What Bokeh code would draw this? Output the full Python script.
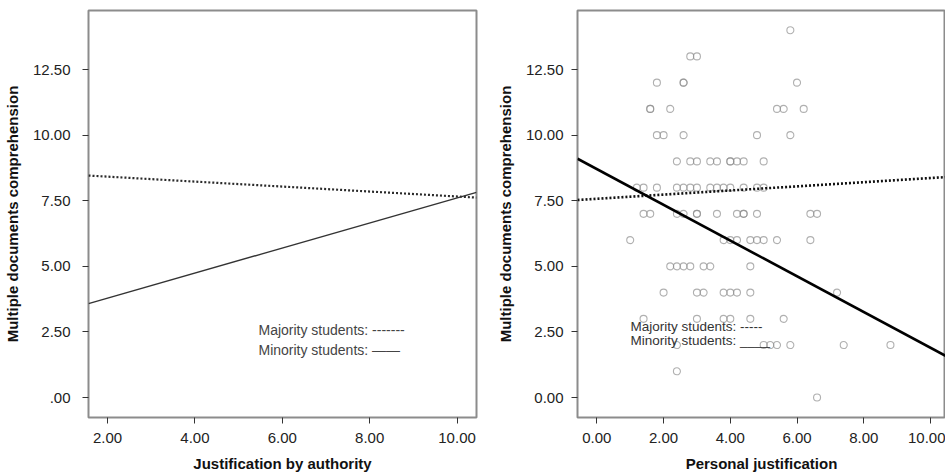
from bokeh.plotting import figure
from bokeh.layouts import row
from bokeh.models import FixedTicker, Range1d, Label
from bokeh.embed import file_html
from bokeh.resources import INLINE

# ---- data ----
y_ticks = [0.0, 2.5, 5.0, 7.5, 10.0, 12.5]
y_labels_left = [".00", "2.50", "5.00", "7.50", "10.00", "12.50"]
y_labels_right = ["0.00", "2.50", "5.00", "7.50", "10.00", "12.50"]
x_ticks_left = [2, 4, 6, 8, 10]
x_labels_left = ["2.00", "4.00", "6.00", "8.00", "10.00"]
x_ticks_right = [0, 2, 4, 6, 8, 10]
x_labels_right = ["0.00", "2.00", "4.00", "6.00", "8.00", "10.00"]

# left panel regression lines (justification by authority)
left_x = [1.565, 10.445]
majority_left = [8.46, 7.62]
minority_left = [3.58, 7.82]

# right panel regression lines (personal justification)
right_x = [-0.58, 10.45]
majority_right = [7.53, 8.40]
minority_right = [9.10, 1.59]

# right panel observed scores
score_x = [5.8,
           2.8, 3.0,
           1.8, 2.6, 2.6, 6.0,
           1.6, 1.6, 2.2, 5.4, 5.6, 6.2,
           1.8, 2.0, 2.6, 4.8, 5.8,
           2.4, 2.8, 3.0, 3.4, 3.6, 4.0, 4.0, 4.2, 4.4, 5.0,
           1.2, 1.4, 1.8, 2.4, 2.6, 2.8, 3.0, 3.4, 3.6, 3.8, 4.0, 4.4, 4.8, 5.0,
           1.4, 1.6, 2.4, 2.6, 3.0, 3.0, 3.6, 4.2, 4.4, 4.4, 4.8, 6.4, 6.6,
           1.0, 3.8, 4.0, 4.2, 4.6, 4.8, 5.0, 5.4, 6.4,
           2.2, 2.4, 2.6, 2.8, 3.2, 3.4, 4.6,
           2.0, 3.0, 3.2, 3.8, 4.0, 4.2, 4.6, 7.2,
           1.4, 3.0, 3.8, 4.0, 4.6, 5.6,
           2.4, 5.0, 5.2, 5.4, 5.8, 7.4, 8.8,
           2.4,
           6.6]
score_y = [14,
           13, 13,
           12, 12, 12, 12,
           11, 11, 11, 11, 11, 11,
           10, 10, 10, 10, 10,
           9, 9, 9, 9, 9, 9, 9, 9, 9, 9,
           8, 8, 8, 8, 8, 8, 8, 8, 8, 8, 8, 8, 8, 8,
           7, 7, 7, 7, 7, 7, 7, 7, 7, 7, 7, 7, 7,
           6, 6, 6, 6, 6, 6, 6, 6, 6,
           5, 5, 5, 5, 5, 5, 5,
           4, 4, 4, 4, 4, 4, 4, 4,
           3, 3, 3, 3, 3, 3,
           2, 2, 2, 2, 2, 2, 2,
           1,
           0]

legend_major = "Majority students: -------"
legend_minor = "Minority students: \u2014\u2014"
legend_major_r = "Majority students: -----"
legend_minor_r = "Minority students: ____"

FONT = "Liberation Sans"


def style(p, xt, xl, yt, yl, xlabel, y_std, y_lab_std):
    p.xaxis.ticker = FixedTicker(ticks=xt)
    p.xaxis.major_label_overrides = {t: l for t, l in zip(xt, xl)}
    p.yaxis.ticker = FixedTicker(ticks=yt)
    p.yaxis.major_label_overrides = {t: l for t, l in zip(yt, yl)}
    p.xaxis.axis_label = xlabel
    p.yaxis.axis_label = "Multiple documents comprehension"
    p.xgrid.visible = False
    p.ygrid.visible = False
    p.outline_line_color = "#8c8c8c"
    p.outline_line_width = 2
    for ax in (p.xaxis, p.yaxis):
        ax.axis_line_color = None
        ax.minor_tick_line_color = None
        ax.major_tick_in = 0
        ax.major_tick_out = 6
        ax.major_tick_line_color = "#333333"
        ax.major_label_text_font = FONT
        ax.major_label_text_font_size = "15px"
        ax.major_label_text_color = "#222222"
        ax.axis_label_text_font = FONT
        ax.axis_label_text_font_size = "15px"
        ax.axis_label_text_font_style = "bold"
        ax.axis_label_text_color = "#111111"
    p.xaxis.major_label_standoff = 9
    p.xaxis.axis_label_standoff = 9
    p.yaxis.major_label_standoff = y_std
    p.yaxis.axis_label_standoff = y_lab_std
    p.background_fill_color = "white"
    p.border_fill_color = "white"


p1 = figure(width=480, height=475, output_backend="svg", toolbar_location=None,
            x_range=Range1d(1.565, 10.445), y_range=Range1d(-0.76, 14.75),
            min_border_left=88, min_border_right=4, min_border_top=10, min_border_bottom=58)
style(p1, x_ticks_left, x_labels_left, y_ticks, y_labels_left, "Justification by authority", 12, 9)
p1.line(left_x, majority_left, line_color="#2a2a2a", line_width=2.2, line_dash="2 2")
p1.line(left_x, minority_left, line_color="#333333", line_width=1.4)
p1.add_layout(Label(x=5.455, y=2.59, text=legend_major, text_font=FONT, text_font_size="14px",
                    text_color="#444444", text_baseline="middle"))
p1.add_layout(Label(x=5.455, y=1.83, text=legend_minor, text_font=FONT, text_font_size="14px",
                    text_color="#444444", text_baseline="middle"))

p2 = figure(width=465, height=475, output_backend="svg", toolbar_location=None,
            x_range=Range1d(-0.58, 10.45), y_range=Range1d(-0.76, 14.75),
            min_border_left=97, min_border_right=0, min_border_top=10, min_border_bottom=58)
style(p2, x_ticks_right, x_labels_right, y_ticks, y_labels_right, "Personal justification", 8, 9)
p2.scatter(score_x, score_y, marker="circle", size=7, fill_color=None,
           line_color="#8f8f8f", line_alpha=0.7, line_width=1.1)
p2.line(right_x, majority_right, line_color="#111111", line_width=2.6, line_dash="2 2")
p2.line(right_x, minority_right, line_color="#000000", line_width=2.6)
p2.add_layout(Label(x=1.01, y=2.72, text=legend_major_r, text_font=FONT, text_font_size="13.5px",
                    text_color="#333333", text_baseline="middle"))
p2.add_layout(Label(x=1.01, y=2.17, text=legend_minor_r, text_font=FONT, text_font_size="13.5px",
                    text_color="#333333", text_baseline="middle"))

layout = row(p1, p2)
open("out.html", "w").write(file_html(layout, INLINE))
